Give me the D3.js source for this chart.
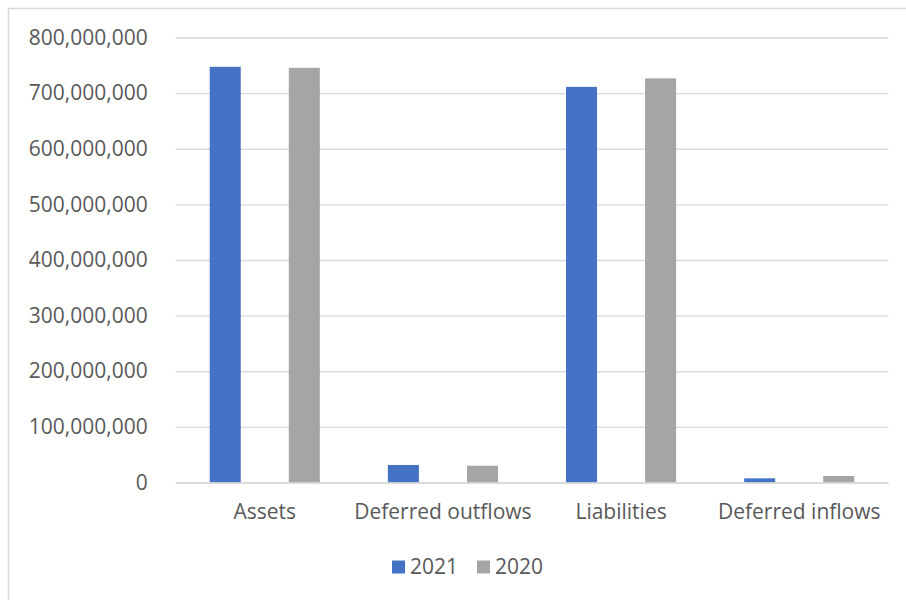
<!DOCTYPE html>
<html lang="en">
<head>
<meta charset="UTF-8">
<title>Balances 2021 vs 2020</title>
<script src="https://d3js.org/d3.v7.min.js"></script>
<style>
  body { margin: 0; background: #fff; }
  svg text { font-family: "Open Sans", sans-serif; fill: #595959; }
</style>
</head>
<body>
<svg id="chart" width="906" height="600"></svg>
<script>
const categories = ['Assets', 'Deferred outflows', 'Liabilities', 'Deferred inflows'];
const seriesNames = ['2021', '2020'];
const values2021 = [747300000, 31500000, 711300000, 7500000];
const values2020 = [745500000, 30200000, 726500000, 11700000];
const yTicks = [0, 100000000, 200000000, 300000000, 400000000, 500000000, 600000000, 700000000, 800000000];
const colors = ['#4472C4', '#A5A5A5'];

const svg = d3.select('#chart');

// chart area border (runs off the right and bottom edges)
svg.append('rect')
    .attr('x', 8.5).attr('y', 8.5)
    .attr('width', 1000).attr('height', 1000)
    .attr('fill', 'none').attr('stroke', '#d9d9d9').attr('stroke-width', 1.5);

const plotLeft = 175.7, plotRight = 888.3, plotTop = 37.5, plotBottom = 482.5;

const y = d3.scaleLinear().domain([0, 800000000]).range([plotBottom, plotTop]);
const x0 = d3.scaleBand().domain(categories).range([plotLeft, plotRight]);
const x1 = d3.scaleBand().domain(seriesNames).range([0, x0.bandwidth()])
    .paddingInner(0.6076).paddingOuter(0.43);

const yAxis = d3.axisLeft(y).tickValues(yTicks).tickSize(-(plotRight - plotLeft))
    .tickPadding(28).tickFormat(d3.format(','));
const gy = svg.append('g').attr('transform', `translate(${plotLeft},0)`).call(yAxis);
gy.select('.domain').remove();
gy.selectAll('.tick line').attr('stroke', '#d9d9d9').attr('stroke-width', 1.3);
gy.selectAll('.tick text').attr('font-size', 21).attr('fill', '#595959');

const rows = categories.map((c, i) => ({ cat: c, vals: [values2021[i], values2020[i]] }));

svg.append('g').selectAll('g')
    .data(rows)
    .join('g')
    .attr('transform', d => `translate(${x0(d.cat)},0)`)
    .selectAll('rect')
    .data(d => d.vals.map((v, j) => ({ key: seriesNames[j], v: v, c: colors[j] })))
    .join('rect')
    .attr('x', d => x1(d.key))
    .attr('width', x1.bandwidth())
    .attr('y', d => y(d.v))
    .attr('height', d => y(0) - y(d.v))
    .attr('fill', d => d.c);

const xAxis = d3.axisBottom(x0).tickSize(0).tickPadding(22);
const gx = svg.append('g').attr('transform', `translate(0,${plotBottom})`).call(xAxis);
gx.select('.domain').attr('stroke', '#d9d9d9').attr('stroke-width', 1.3);
gx.selectAll('.tick text').attr('font-size', 21).attr('fill', '#595959');

// legend
const legend = svg.append('g').attr('transform', 'translate(392,567)');
const items = legend.selectAll('g').data(seriesNames).join('g')
    .attr('transform', (d, i) => `translate(${i * 85},0)`);
items.append('rect').attr('x', 0).attr('y', -6.5).attr('width', 13).attr('height', 13)
    .attr('fill', (d, i) => colors[i]);
items.append('text').attr('x', 18).attr('dy', '0.35em').attr('font-size', 21).text(d => d);
</script>
</body>
</html>
